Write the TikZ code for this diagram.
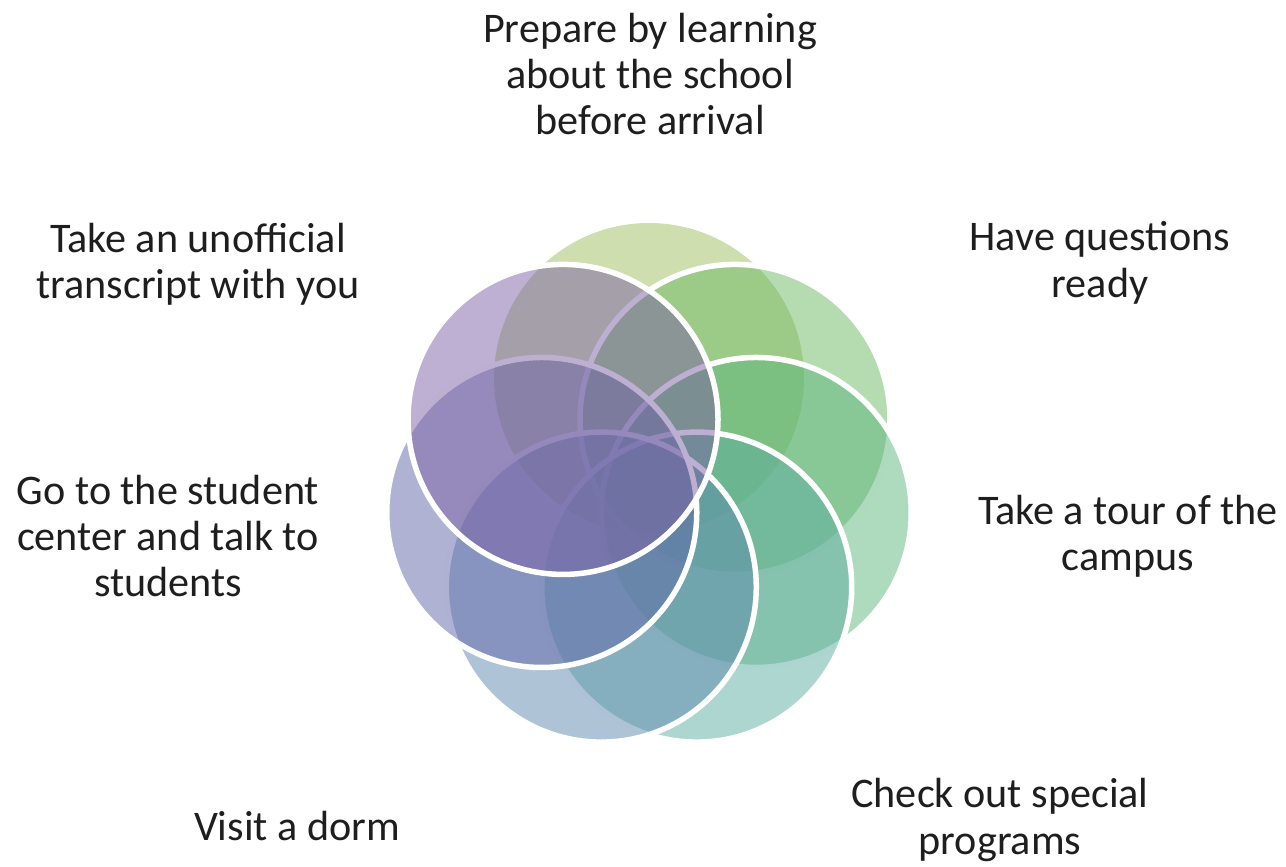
\documentclass[tikz,border=0pt]{standalone}
\usepackage{fontspec}
\setmainfont{Carlito}
\usepackage{tikz}
\usetikzlibrary{positioning}
\definecolor{ringA}{HTML}{9DBD5D}
\definecolor{ringB}{HTML}{6BB761}
\definecolor{ringC}{HTML}{5DB57D}
\definecolor{ringD}{HTML}{5DADA1}
\definecolor{ringE}{HTML}{5D89AD}
\definecolor{ringF}{HTML}{6165A9}
\definecolor{ringG}{HTML}{7D61A5}
\definecolor{mtext}{HTML}{1E1E1E}
\tikzset{
  textnode/.style={align=center, text=mtext, inner sep=0pt,
    font=\fontsize{24}{26.4}\selectfont},
  ring/.style={fill=#1, fill opacity=0.5, draw=white, line width=1.1mm}
}

\begin{document}
\begin{tikzpicture}[x=0.2mm, y=-0.2mm]
  \useasboundingbox (0,0) rectangle (1286,867);
  % top ring has no visible rim
  \fill [ringA, fill opacity=0.5] (649,378) circle [radius=155];
  \foreach \col [count=\k] in {ringB, ringC, ringD, ringE, ringF, ringG} {
    \pgfmathsetmacro\a{90-360/7*\k}
    \draw [ring=\col] ({649+110*cos(\a)}, {488-110*sin(\a)}) circle [radius=155];
  }
  \node [textnode] (prepare) at (650,74) {Prepare by learning\\about the school\\before arrival};
  \node [textnode] (questions) at (1100,263) {Have questions\\ready};
  \node [textnode] (tour) at (1128,536) {Take a tour of the\\campus};
  \node [textnode] (programs) at (1000,820) {Check out special\\programs};
  \node [textnode] (dorm) at (297,826) {Visit a dorm};
  \node [textnode] (student) at (168,536) {Go to the student\\center and talk to\\students};
  \node [textnode] (transcript) at (198,264) {Take an unofficial\\transcript with you};
\end{tikzpicture}
\end{document}
